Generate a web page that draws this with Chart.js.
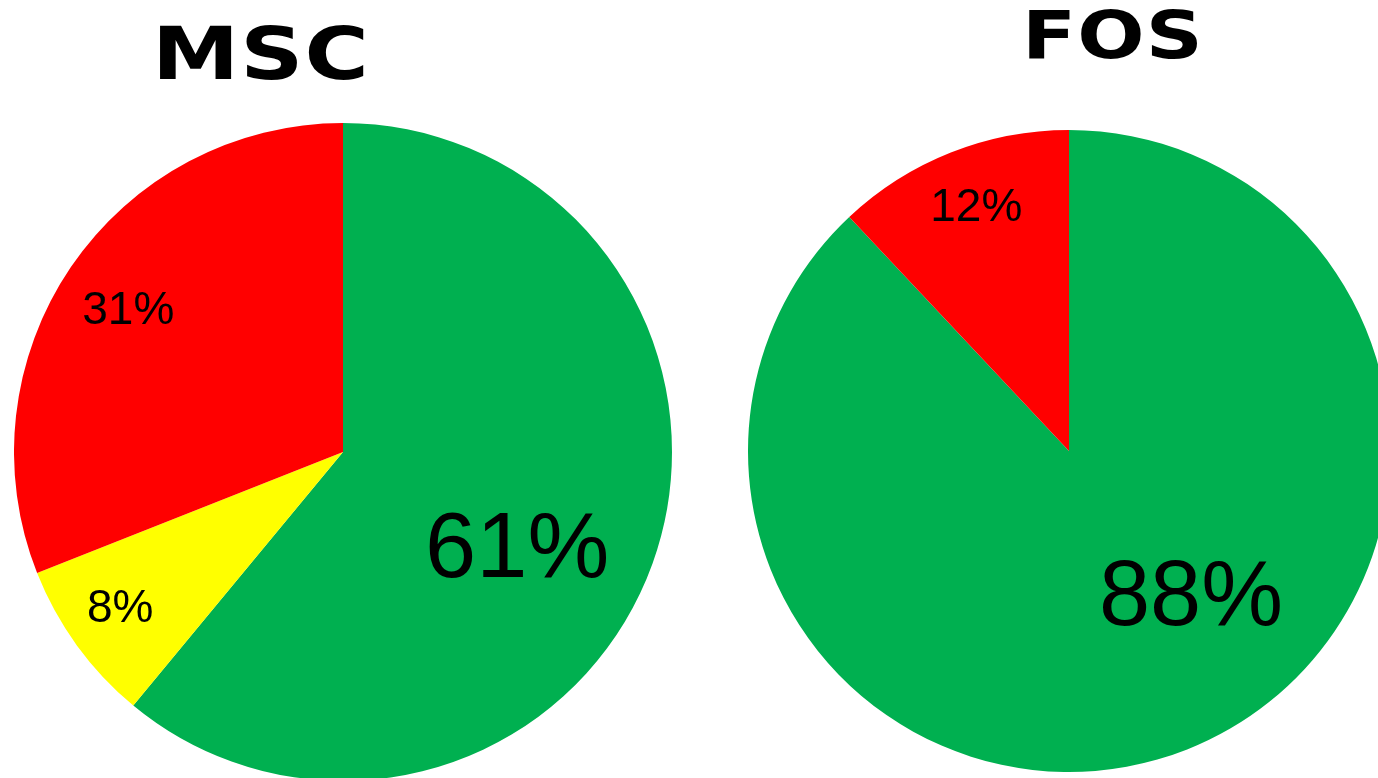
<!DOCTYPE html>
<html>
<head>
<meta charset="utf-8">
<script src="https://cdn.jsdelivr.net/npm/chart.js@4.4.1/dist/chart.umd.min.js"></script>
<style>
  html, body { margin: 0; padding: 0; background: #fff; overflow: hidden; width: 1378px; height: 778px; }
  .title { position: absolute; font-family: "DejaVu Sans", sans-serif; font-weight: bold; color: #000; line-height: 1; white-space: nowrap; transform: translateX(-50%) scaleX(1.2); letter-spacing: 1px; }
  #msc-title { left: 261px; top: 17px; font-size: 73px; }
  #fos-title { left: 1113px; top: 3px; font-size: 66px; }
  .pie { position: absolute; }
  #msc-box { left: 14px; top: 123px; }
  #fos-box { left: 748px; top: 130px; }
</style>
</head>
<body>
<div class="title" id="msc-title">MSC</div>
<div class="title" id="fos-title">FOS</div>
<div class="pie" id="msc-box"><canvas id="mscChart" width="658" height="658"></canvas></div>
<div class="pie" id="fos-box"><canvas id="fosChart" width="642" height="642"></canvas></div>
<script>
// datos
const mscLabels = ['Verde', 'Amarillo', 'Rojo'];
const mscValues = [61, 8, 31];
const fosLabels = ['Verde', 'Rojo'];
const fosValues = [88, 12];

// estilos de las etiquetas (fraccion del radio, giro en grados, tamaño de letra)
const mscLabelStyle = { frac: [0.61, 0.83, 0.78], shift: [10, 0.7, -1], size: [92, 46, 46] };
const fosLabelStyle = { frac: [0.60, 0.81], shift: [-17.7, 0.7], size: [92, 46] };

const GREEN = '#00B050', YELLOW = '#FFFF00', RED = '#FF0000';

const percentLabels = {
    id: 'percentLabels',
    afterDatasetsDraw(chart, args, opts) {
        const ctx = chart.ctx;
        const data = chart.data.datasets[0].data;
        const total = data.reduce((a, b) => a + b, 0);
        chart.getDatasetMeta(0).data.forEach((arc, i) => {
            const mid = (arc.startAngle + arc.endAngle) / 2 + opts.shift[i] * Math.PI / 180;
            const r = arc.outerRadius * opts.frac[i];
            const x = arc.x + Math.cos(mid) * r;
            const y = arc.y + Math.sin(mid) * r;
            ctx.save();
            ctx.font = opts.size[i] + 'px "Liberation Sans", sans-serif';
            ctx.fillStyle = '#000';
            ctx.textAlign = 'center';
            ctx.textBaseline = 'middle';
            ctx.fillText(Math.round(data[i] / total * 100) + '%', x, y);
            ctx.restore();
        });
    }
};

function makePie(id, labels, values, colors, labelStyle) {
    return new Chart(document.getElementById(id), {
        type: 'pie',
        data: {
            labels: labels,
            datasets: [{
                data: values,
                backgroundColor: colors,
                borderWidth: 0,
                offset: 0,
                hoverOffset: 0
            }]
        },
        options: {
            responsive: false,
            animation: false,
            layout: { padding: 0 },
            events: [],
            plugins: {
                legend: { display: false },
                tooltip: { enabled: false },
                percentLabels: labelStyle
            }
        },
        plugins: [percentLabels]
    });
}

makePie('mscChart', mscLabels, mscValues, [GREEN, YELLOW, RED], mscLabelStyle);
makePie('fosChart', fosLabels, fosValues, [GREEN, RED], fosLabelStyle);
</script>
</body>
</html>
